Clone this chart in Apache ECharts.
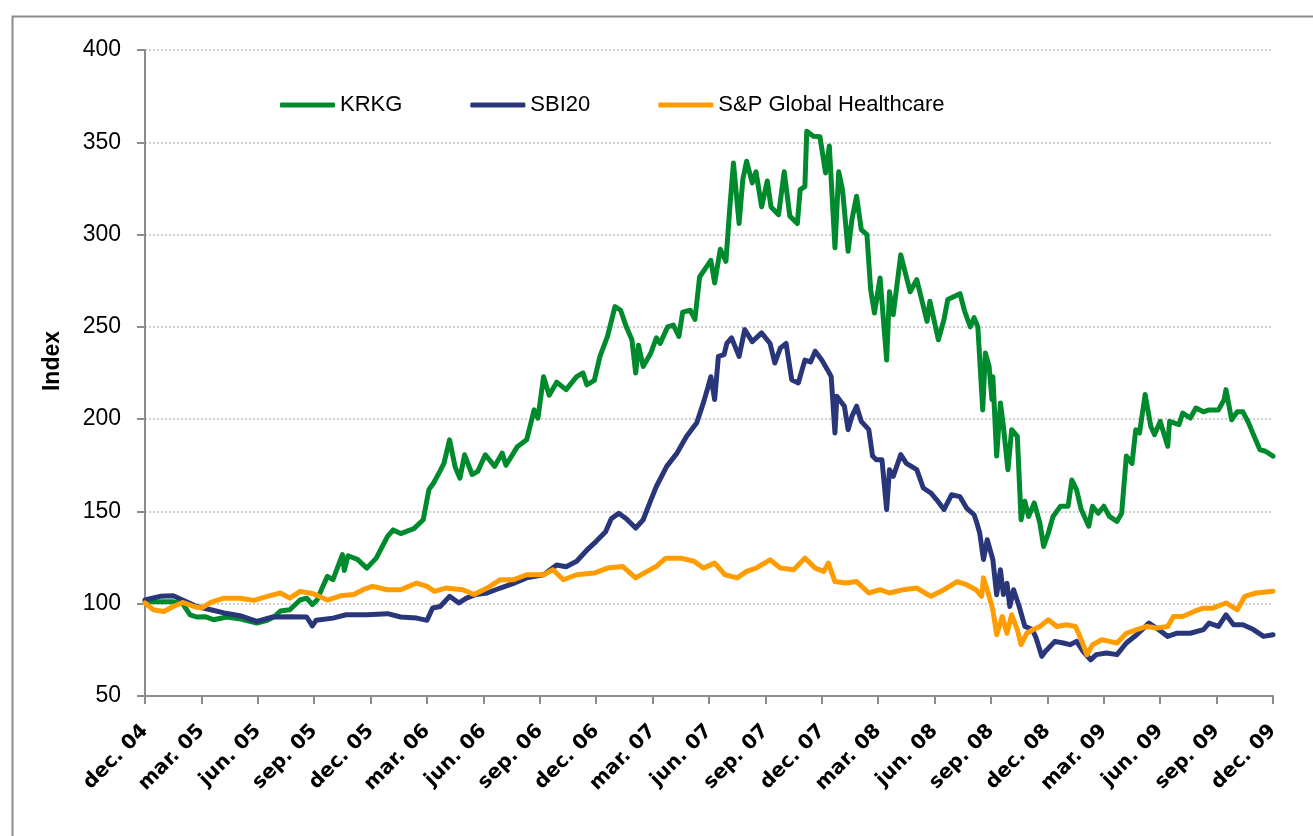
<!DOCTYPE html>
<html>
<head>
<meta charset="utf-8">
<script src="https://cdn.jsdelivr.net/npm/echarts@6/dist/echarts.min.js"></script>
<style>
  html, body { margin: 0; padding: 0; background: #fff; }
  #chart { width: 1313px; height: 836px; }
</style>
</head>
<body>
<div id="chart"></div>
<script>
// month index counted from dec. 04 (0) to dec. 09 (60)
const tickLabels = ['dec. 04', 'mar. 05', 'jun. 05', 'sep. 05', 'dec. 05', 'mar. 06', 'jun. 06',
  'sep. 06', 'dec. 06', 'mar. 07', 'jun. 07', 'sep. 07', 'dec. 07', 'mar. 08', 'jun. 08',
  'sep. 08', 'dec. 08', 'mar. 09', 'jun. 09', 'sep. 09', 'dec. 09'];

const seriesNames = ['KRKG', 'SBI20', 'S&P Global Healthcare'];

const krkg = [
  [0, 101], [0.8, 101], [1.5, 101], [2.0, 100], [2.4, 94], [2.75, 92.8], [3.2, 93], [3.65, 91.3],
  [4.35, 92.8], [5.1, 91.7], [5.95, 89.5], [6.5, 91], [6.85, 92.8], [7.2, 96], [7.7, 96.7],
  [8.25, 102], [8.6, 103], [8.9, 99.5], [9.15, 102], [9.4, 108], [9.7, 114.8], [10.0, 113],
  [10.5, 126.6], [10.6, 118], [10.8, 126], [11.3, 124], [11.8, 119.3], [12.3, 124.7], [12.9, 136.5],
  [13.2, 140], [13.6, 138], [14.3, 140.7], [14.8, 145.5], [15.1, 161.8], [15.35, 165.4], [15.7, 172],
  [15.9, 176], [16.2, 188.8], [16.5, 174], [16.75, 168], [17.0, 180.7], [17.4, 170], [17.7, 171.7],
  [18.1, 180.7], [18.6, 174.4], [19.0, 181.6], [19.2, 175], [19.8, 185], [20.3, 188.8], [20.7, 205],
  [20.9, 200.5], [21.2, 223], [21.5, 213], [21.9, 220], [22.4, 216], [22.96, 223], [23.3, 225],
  [23.5, 218.6], [23.9, 221], [24.2, 234], [24.6, 244.8], [25.0, 261], [25.3, 259], [25.6, 250],
  [25.9, 243], [26.1, 225], [26.25, 240], [26.5, 228.5], [26.9, 235.7], [27.2, 244], [27.4, 241],
  [27.8, 250], [28.1, 251], [28.4, 244.8], [28.6, 258], [29.0, 259], [29.25, 254], [29.5, 277],
  [29.9, 283], [30.1, 286], [30.3, 273.8], [30.6, 292], [30.9, 285.5], [31.1, 313.6], [31.3, 338.8],
  [31.6, 306], [31.8, 330], [32.0, 339.7], [32.3, 328], [32.5, 334], [32.8, 315], [33.1, 329],
  [33.3, 315], [33.7, 310.8], [34.0, 334], [34.3, 310], [34.7, 306], [34.85, 324.4], [35.1, 326],
  [35.2, 356], [35.55, 353.3], [35.9, 353], [36.2, 333.4], [36.4, 348], [36.7, 292.8], [36.9, 334],
  [37.1, 324.4], [37.2, 313.5], [37.4, 291], [37.6, 308], [37.85, 320.8], [38.1, 302.7], [38.4, 300],
  [38.6, 270], [38.8, 257.5], [39.1, 276.5], [39.45, 232], [39.6, 269], [39.8, 256.6], [40.2, 289],
  [40.7, 269], [41.05, 275.6], [41.6, 253], [41.75, 263.9], [42.2, 243], [42.5, 254], [42.7, 264.8],
  [43.35, 268], [43.6, 258.4], [43.9, 250], [44.1, 255], [44.3, 250], [44.56, 205], [44.7, 235.9],
  [44.9, 228.6], [45.05, 210.6], [45.1, 223], [45.3, 180], [45.5, 208.8], [45.66, 196], [45.9, 172.6],
  [46.1, 194.3], [46.4, 190.7], [46.6, 145.5], [46.8, 155.5], [47.0, 147.3], [47.3, 154.6],
  [47.6, 143.7], [47.8, 131], [48.05, 138.3], [48.3, 147.3], [48.7, 152.8], [49.1, 152.8], [49.3, 167],
  [49.55, 161.8], [49.8, 151], [50.2, 142], [50.4, 152.8], [50.7, 149], [51.0, 152.8], [51.3, 147.3],
  [51.7, 144.6], [51.95, 149], [52.2, 180], [52.5, 176], [52.7, 194.3], [52.9, 192.5], [53.2, 213.3],
  [53.5, 196], [53.7, 191.6], [54.0, 198.8], [54.4, 185.3], [54.5, 198.8], [55.0, 197], [55.2, 203.3],
  [55.6, 200.6], [55.9, 206], [56.3, 204], [56.6, 205], [57.1, 205], [57.4, 210.6], [57.5, 216],
  [57.8, 199.7], [58.1, 204], [58.4, 204], [58.7, 198], [58.96, 191.6], [59.3, 183.5], [59.6, 182.6],
  [60, 180]
];

const sbi20 = [
  [0, 102], [0.8, 104], [1.5, 104.3], [2.0, 102], [2.75, 98.5], [3.5, 96.7], [4.2, 95], [5.05, 93.5],
  [5.95, 90.4], [6.8, 92.8], [7.7, 93], [8.6, 92.8], [8.9, 88], [9.1, 91], [10.0, 92.2], [10.7, 94],
  [11.8, 94], [12.9, 94.6], [13.6, 92.8], [14.45, 92.2], [15.0, 91], [15.3, 97.7], [15.7, 98.5],
  [16.2, 104], [16.7, 100.4], [17.1, 103], [17.6, 105], [18.2, 105.8], [18.9, 108.5], [19.6, 111],
  [20.3, 114], [21.2, 115.7], [21.9, 121], [22.4, 120], [22.96, 123], [23.5, 129], [24.0, 133.8],
  [24.5, 139], [24.8, 146], [25.2, 149], [25.6, 146], [26.1, 141], [26.5, 145.5], [26.9, 156],
  [27.2, 163.5], [27.75, 174.4], [28.3, 181.6], [28.8, 190.6], [29.35, 198], [29.7, 208.8],
  [29.96, 217.8], [30.1, 223], [30.3, 210.6], [30.5, 234], [30.8, 235], [30.95, 241], [31.2, 244],
  [31.6, 234], [31.9, 248.5], [32.3, 242], [32.8, 246.7], [33.25, 241], [33.5, 230.4], [33.8, 238.6],
  [34.1, 241], [34.4, 221.4], [34.75, 219.6], [35.1, 232], [35.4, 231], [35.65, 236.8], [36.0, 232],
  [36.3, 226.8], [36.5, 223], [36.7, 192.5], [36.8, 212.4], [37.2, 207], [37.4, 194.3], [37.6, 201.5],
  [37.85, 207], [38.1, 198.8], [38.5, 194.3], [38.7, 180], [38.9, 178], [39.2, 178], [39.45, 151],
  [39.6, 172.6], [39.8, 169], [40.2, 180.8], [40.5, 176], [41.05, 172.6], [41.4, 162.7], [41.8, 160],
  [42.1, 156.4], [42.5, 151], [42.9, 159], [43.35, 158], [43.7, 151.8], [44.1, 148.2], [44.25, 143.7],
  [44.4, 138.3], [44.6, 124], [44.8, 134.7], [45.1, 123.8], [45.3, 104.9], [45.5, 118.4], [45.66, 105],
  [45.85, 111], [46.0, 98.5], [46.2, 107.6], [46.5, 98.5], [46.8, 87.7], [47.2, 86], [47.4, 81.4],
  [47.7, 71.5], [47.9, 74.2], [48.4, 79.6], [48.85, 78.7], [49.2, 77.8], [49.55, 79.6], [49.9, 74.2],
  [50.3, 69.6], [50.6, 72.4], [51.15, 73.3], [51.7, 72.4], [52.2, 78.7], [52.75, 83.2], [53.4, 89.5],
  [53.8, 86.8], [54.4, 82.3], [54.9, 84], [55.6, 84], [56.3, 86], [56.6, 89.5], [57.1, 87.7],
  [57.5, 94], [57.9, 88.6], [58.4, 88.6], [58.96, 86], [59.5, 82.3], [60, 83.2]
];

const spHealth = [
  [0, 100.4], [0.45, 96.7], [1.0, 95.8], [1.5, 98.5], [2.0, 100.7], [2.6, 98.5], [3.0, 97.6],
  [3.5, 100.7], [4.2, 103], [5.05, 103], [5.8, 101.8], [6.5, 104], [7.2, 105.8], [7.7, 103],
  [8.25, 106.7], [8.95, 105.4], [9.7, 102], [10.4, 104.3], [11.1, 105], [11.6, 107.6], [12.1, 109.4],
  [12.9, 107.6], [13.6, 107.6], [14.45, 111.2], [15.0, 109.4], [15.4, 106.7], [16.0, 108.5],
  [16.9, 107.6], [17.5, 105], [18.2, 108.5], [18.9, 113], [19.6, 113], [20.3, 115.7], [21.2, 115.7],
  [21.7, 118.4], [22.25, 113], [22.96, 115.7], [23.9, 116.6], [24.6, 119.3], [25.4, 120.2],
  [26.1, 114], [26.7, 117.5], [27.2, 120.2], [27.7, 124.7], [28.5, 124.7], [29.2, 123], [29.7, 119.3],
  [30.3, 122], [30.85, 115.7], [31.5, 114], [32.0, 117.5], [32.5, 119.3], [33.25, 123.8],
  [33.8, 119.3], [34.5, 118.4], [35.1, 124.7], [35.65, 119.3], [36.1, 117.5], [36.35, 122],
  [36.7, 112], [37.3, 111.2], [37.85, 112], [38.5, 105.8], [39.1, 107.6], [39.6, 105.8],
  [40.35, 107.6], [41.05, 108.5], [41.8, 104], [42.5, 107.6], [43.2, 112], [43.7, 110.3],
  [44.2, 107.6], [44.5, 104], [44.6, 114], [44.9, 104], [45.1, 96.7], [45.3, 83.2], [45.6, 93.1],
  [45.85, 84], [46.1, 94], [46.4, 86], [46.6, 77.8], [46.9, 84], [47.25, 86], [47.6, 87.7],
  [48.05, 91.3], [48.5, 87.7], [49.0, 88.6], [49.5, 87.7], [49.8, 80.5], [50.1, 72.4], [50.4, 77.8],
  [50.9, 80.5], [51.3, 79.6], [51.7, 78.7], [52.2, 84], [52.75, 86], [53.3, 87.7], [53.8, 86.8],
  [54.4, 87.7], [54.7, 93.1], [55.2, 93.1], [55.8, 95.8], [56.3, 97.6], [56.8, 97.6], [57.5, 100.4],
  [58.1, 96.7], [58.5, 104], [59.1, 105.8], [60, 106.7]
];

const colors = ['#008a2e', '#29377a', '#ff9c00'];
const sans = '"Liberation Sans", Arial, sans-serif';

const chart = echarts.init(document.getElementById('chart'));

const option = {
  animation: false,
  backgroundColor: '#fff',
  color: colors,
  graphic: [
    {
      type: 'rect',
      left: 10,
      top: 14,
      shape: { width: 1330, height: 850 },
      style: { fill: 'none', stroke: '#8c8c8c', lineWidth: 2 },
      silent: true
    },
    {
      type: 'text',
      x: 53,
      y: 361,
      rotation: Math.PI / 2,
      style: {
        text: 'Index',
        font: 'bold 23px ' + sans,
        fill: '#000',
        align: 'center',
        verticalAlign: 'middle'
      }
    }
  ],
  legend: {
    left: 275,
    top: 89,
    icon: 'roundRect',
    itemWidth: 55,
    itemHeight: 5,
    itemGap: 68,
    textStyle: { fontFamily: sans, fontSize: 22, color: '#000' },
    data: seriesNames
  },
  grid: { left: 145, right: 40, top: 50, bottom: 140, containLabel: false },
  xAxis: {
    type: 'value',
    min: 0,
    max: 60,
    interval: 3,
    axisLine: { lineStyle: { color: '#8c8c8c', width: 2 } },
    axisTick: { show: true, length: 8, lineStyle: { color: '#8c8c8c', width: 2 } },
    splitLine: { show: false },
    axisLabel: {
      rotate: 45,
      margin: 32,
      fontFamily: '"DejaVu Sans", sans-serif',
      fontWeight: 'bold',
      fontSize: 20,
      color: '#000',
      formatter: function (v) { return tickLabels[Math.round(v / 3)]; }
    }
  },
  yAxis: {
    type: 'value',
    min: 50,
    max: 400,
    interval: 50,
    axisLine: { show: true, lineStyle: { color: '#8c8c8c', width: 2 } },
    axisTick: { show: true, length: 8, inside: false, lineStyle: { color: '#8c8c8c', width: 2 } },
    splitLine: { show: true, lineStyle: { color: '#c0c0c0', width: 1.5, type: [2, 2] } },
    axisLabel: { margin: 24, fontFamily: sans, fontSize: 23, color: '#000' }
  },
  series: [krkg, sbi20, spHealth].map(function (data, i) {
    return {
      name: seriesNames[i],
      type: 'line',
      data: data,
      showSymbol: false,
      symbol: 'none',
      lineStyle: { width: 5, color: colors[i], join: 'round', cap: 'round' },
      itemStyle: { color: colors[i] },
      z: 2 + i
    };
  })
};

chart.setOption(option);
</script>
</body>
</html>
